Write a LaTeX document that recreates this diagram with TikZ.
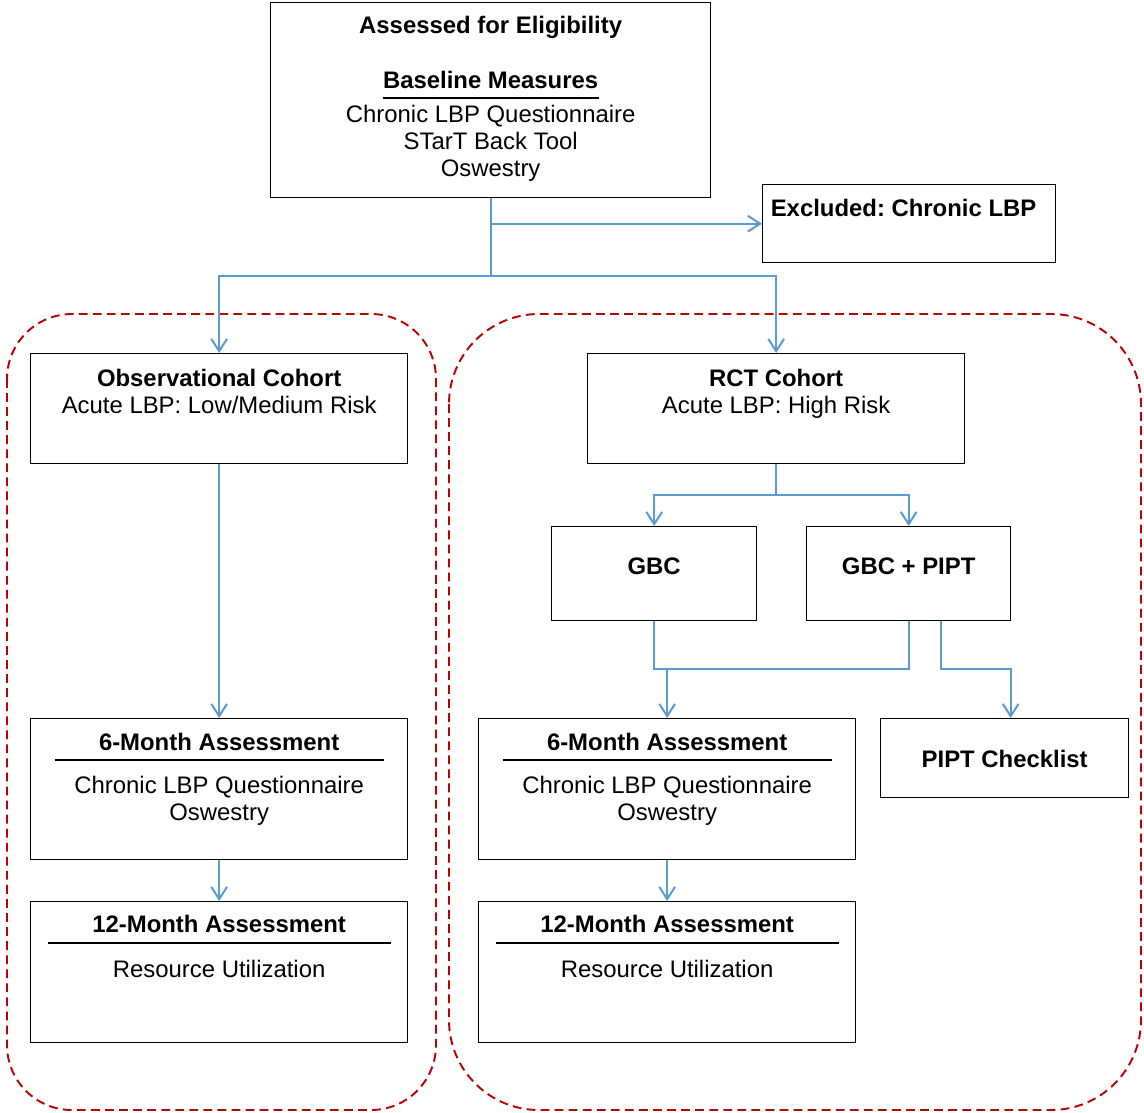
\documentclass[tikz,border=0pt]{standalone}
\usepackage{fontspec}
\setmainfont{Liberation Sans}
\usetikzlibrary{arrows.meta,positioning,calc}
\definecolor{linkblue}{HTML}{5B9BD5}
\definecolor{cohortred}{HTML}{C00000}
\frenchspacing
\newcommand{\boxtext}[4]{\parbox[t][#2][t]{#1}{\centering\rule{0pt}{#3}#4}}

\begin{document}
\begin{tikzpicture}[x=0.02cm,y=-0.02cm,
 every node/.style={font=\fontsize{13.6}{15.4}\selectfont},
 box/.style={draw,line width=0.8pt,inner sep=0pt,anchor=north west},
 cohort/.style={draw=cohortred,line width=1.1pt,dash pattern=on 5pt off 3pt},
 link/.style={draw=linkblue,line width=1.15pt},
 arr/.style={link,-{Straight Barb[length=7pt,width=9pt]}}]
\useasboundingbox (0,0) rectangle (1144,1113);
% cohort frames
\draw[cohort,rounded corners=1.3cm] (7,314) rectangle (436,1110);
\draw[cohort,rounded corners=1.8cm] (449,314) rectangle (1141,1110);
% boxes
\node[box] (top) at (270,2) {\boxtext{8.8cm}{3.9cm}{17.6pt}{\textbf{Assessed for Eligibility}\\[15.9pt]\textbf{Baseline Measures}\\[-9.3pt]\rule{4.32cm}{1.1pt}\\[-2.3pt]Chronic LBP Questionnaire\\STarT Back Tool\\Oswestry}};
\node[box] (excl) at (762,184) {\boxtext{5.86cm}{1.56cm}{18.2pt}{\raggedright\hspace*{4.6pt}\textbf{Excluded: Chronic LBP}}};
\node[box] (obs) at (30,353) {\boxtext{7.54cm}{2.2cm}{18.8pt}{\textbf{Observational Cohort}\\Acute LBP: Low/Medium Risk}};
\node[box] (rct) at (587,353) {\boxtext{7.54cm}{2.2cm}{18.8pt}{\textbf{RCT Cohort}\\Acute LBP: High Risk}};
\node[box] (gbc) at (551,526) {\boxtext{4.1cm}{1.88cm}{27.3pt}{\textbf{GBC}}};
\node[box] (gbcp) at (806,526) {\boxtext{4.08cm}{1.88cm}{27.3pt}{\textbf{GBC + PIPT}}};
\node[box] (sixL) at (30,718) {\boxtext{7.54cm}{2.82cm}{18.2pt}{\textbf{6-Month Assessment}\\[-9.7pt]\rule{6.58cm}{1.1pt}\\[3.4pt]Chronic LBP Questionnaire\\Oswestry}};
\node[box] (twL) at (30,901) {\boxtext{7.54cm}{2.82cm}{17.6pt}{\textbf{12-Month Assessment}\\[-9.1pt]\rule{6.86cm}{1.1pt}\\[3.9pt]Resource Utilization}};
\node[box] (sixR) at (478,718) {\boxtext{7.54cm}{2.82cm}{18.2pt}{\textbf{6-Month Assessment}\\[-9.7pt]\rule{6.58cm}{1.1pt}\\[3.4pt]Chronic LBP Questionnaire\\Oswestry}};
\node[box] (twR) at (478,901) {\boxtext{7.54cm}{2.82cm}{17.6pt}{\textbf{12-Month Assessment}\\[-9.1pt]\rule{6.86cm}{1.1pt}\\[3.9pt]Resource Utilization}};
\node[box] (pipt) at (880,718) {\boxtext{4.96cm}{1.58cm}{27.9pt}{\textbf{PIPT Checklist}}};
% connectors
\path (top.south) ++(0,78) coordinate (split);
\draw[link] (top.south) -- (split);
\draw[arr] (top.south |- excl.west) -- (excl.west);
\draw[arr] (split) -| (obs.north);
\draw[arr] (split) -| (rct.north);
\draw[arr] (obs.south) -- (sixL.north);
\draw[arr] (sixL.south) -- (twL.north);
\path (rct.south) ++(0,31) coordinate (fork);
\draw[link] (rct.south) -- (fork);
\draw[arr] (fork) -| (gbc.north);
\draw[arr] (fork) -| (gbcp.north);
\path (gbc.south) ++(0,48) coordinate (merge);
\draw[link] (gbc.south) -- (merge) -| (gbcp.south);
\draw[arr] (sixR.north |- merge) -- (sixR.north);
\draw[arr] ([xshift=0.64cm]gbcp.south) -- ([xshift=0.64cm]gbcp.south |- merge) -| ([xshift=0.12cm]pipt.north);
\draw[arr] (sixR.south) -- (twR.north);
\end{tikzpicture}
\end{document}
